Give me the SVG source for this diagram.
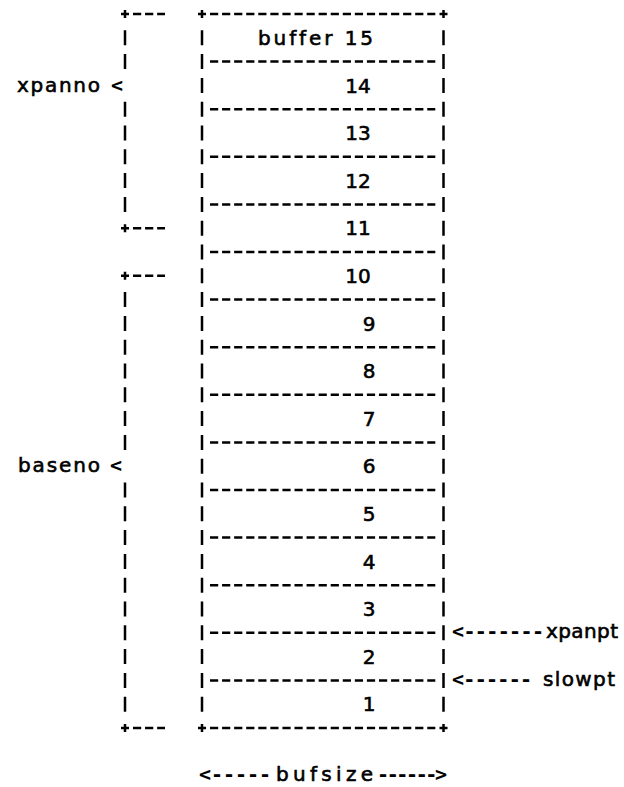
<svg xmlns="http://www.w3.org/2000/svg" width="624" height="787" viewBox="0 0 624 787">
<style>
.ln{fill:none;stroke:#000;stroke-width:2.5}
.dh{stroke-dasharray:8.2 3.87}
.dv{stroke-dasharray:15 8.8}
text{font-family:"DejaVu Sans","Verdana","Liberation Sans",sans-serif;font-size:20px;fill:#000;stroke:#000;stroke-width:0.6;font-variant-ligatures:none;font-feature-settings:"liga" 0}
.m{font-family:"DejaVu Sans Mono","Liberation Mono",monospace;font-weight:bold;stroke:none}
.num{text-anchor:middle}
</style>
<rect width="624" height="787" fill="#fff"/>
<g id="frame">
  <path class="ln dv" d="M202 30.3V711.7M443.5 30.3V711.7"/>
  <path class="ln" d="M198 14H206M202 10V18M439.5 14H447.5M443.5 10V18M198 728H206M202 724V732M439.5 728H447.5M443.5 724V732"/>
  <path class="ln dh" d="M210 14H435.3M210 61.6H435.3M210 109.2H435.3M210 156.8H435.3M210 204.4H435.3M210 252H435.3M210 299.6H435.3M210 347.2H435.3M210 394.8H435.3M210 442.4H435.3M210 490H435.3M210 537.6H435.3M210 585.2H435.3M210 632.8H435.3M210 680.4H435.3M210 728H435.3"/>
</g>
<g id="buf15"><text x="258" y="45" textLength="115" lengthAdjust="spacing">buffer 15</text></g>
<g id="buf14"><text class="num" x="358" y="92.6">14</text></g>
<g id="buf13"><text class="num" x="358" y="140.2">13</text></g>
<g id="buf12"><text class="num" x="358" y="187.8">12</text></g>
<g id="buf11"><text class="num" x="358" y="235.4">11</text></g>
<g id="buf10"><text class="num" x="358" y="283">10</text></g>
<g id="buf9"><text class="num" x="369" y="330.6">9</text></g>
<g id="buf8"><text class="num" x="369" y="378.2">8</text></g>
<g id="buf7"><text class="num" x="369" y="425.8">7</text></g>
<g id="buf6"><text class="num" x="369" y="473.4">6</text></g>
<g id="buf5"><text class="num" x="369" y="521">5</text></g>
<g id="buf4"><text class="num" x="369" y="568.6">4</text></g>
<g id="buf3"><text class="num" x="369" y="616.2">3</text></g>
<g id="buf2"><text class="num" x="369" y="663.8">2</text></g>
<g id="buf1"><text class="num" x="369" y="711.4">1</text></g>
<g id="connectors">
  <g id="xpanno-bracket">
    <path class="ln" d="M121 14H129M125 10V18M121 228.2H129M125 224.2V232.2"/>
    <path class="ln dh" d="M133 14H165M133 228.2H165"/>
    <path class="ln dv" d="M125 30.3V69.1M125 101.7V211.9"/>
  </g>
  <g id="baseno-bracket">
    <path class="ln" d="M121 275.8H129M125 271.8V279.8M121 728H129M125 724V732"/>
    <path class="ln dh" d="M133 275.8H165M133 728H165"/>
    <path class="ln dv" d="M125 292.1V449.9M125 482.5V711.7"/>
  </g>
</g>
<g id="xpanno"><text y="91.5"><tspan x="17" textLength="83" lengthAdjust="spacing">xpanno</tspan> <tspan class="m" x="111">&lt;</tspan></text></g>
<g id="baseno"><text y="471.7"><tspan x="18" textLength="82" lengthAdjust="spacing">baseno</tspan> <tspan class="m" x="110">&lt;</tspan></text></g>
<g id="xpanpt"><text y="638.3"><tspan class="m" x="452" textLength="92" lengthAdjust="spacing">&lt;-------</tspan><tspan x="546" textLength="72" lengthAdjust="spacing">xpanpt</tspan></text></g>
<g id="slowpt"><text y="686"><tspan class="m" x="452" textLength="80" lengthAdjust="spacing">&lt;------</tspan> <tspan x="543" textLength="72" lengthAdjust="spacing">slowpt</tspan></text></g>
<g id="bufsize"><text y="781"><tspan class="m" x="199" textLength="72" lengthAdjust="spacing">&lt;-----</tspan><tspan x="276" textLength="97" lengthAdjust="spacing">bufsize</tspan><tspan class="m" x="377" textLength="70" lengthAdjust="spacing">------&gt;</tspan></text></g>
</svg>
